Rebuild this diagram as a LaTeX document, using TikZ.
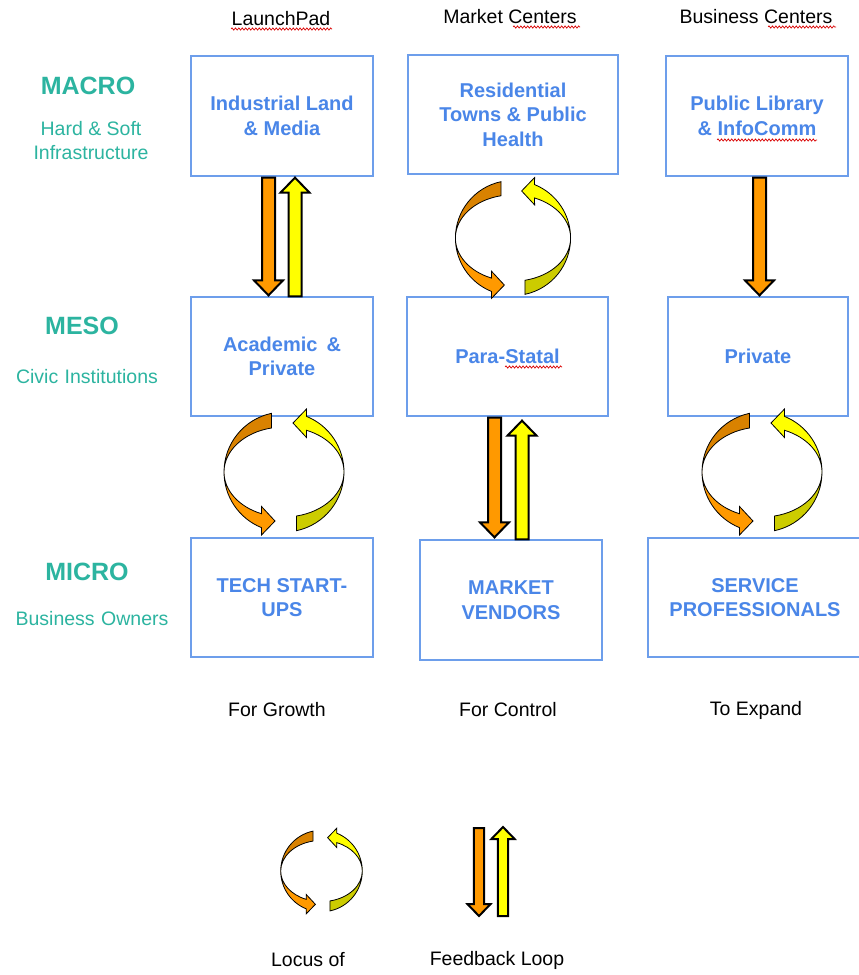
\documentclass[tikz,border=0pt]{standalone}
\usepackage{fontspec}
\setmainfont{Liberation Sans}
\usetikzlibrary{calc,decorations.pathmorphing}

\definecolor{boxline}{HTML}{6D9EEB}
\definecolor{boxtext}{HTML}{4A86E8}
\definecolor{levelteal}{HTML}{2CB4A0}
\definecolor{orangedark}{HTML}{D98200}
\definecolor{orangelight}{HTML}{FF9900}
\definecolor{yellowlight}{HTML}{FFFF00}
\definecolor{yellowdark}{HTML}{CCCC00}

\newcommand\boxfont{\fontsize{20}{24.5}\selectfont\bfseries}
\newcommand\plainfont{\fontsize{19.5}{24}\selectfont}
\newcommand\levelfont{\fontsize{25}{30}\selectfont\bfseries}

% straight block arrow pointing down: #1 scale, #2 fill, #3 tail, #4 tip
\newcommand\fatdown[4][1]{%
  \filldraw[fatarrow, fill=#2]
    ($(#3)+(-6.5*#1,0)$) -- ($(#4)+(-6.5*#1,-15*#1)$) -- ($(#4)+(-14.5*#1,-15*#1)$)
    -- (#4) -- ($(#4)+(14.5*#1,-15*#1)$) -- ($(#4)+(6.5*#1,-15*#1)$)
    -- ($(#3)+(6.5*#1,0)$) -- cycle;}
% straight block arrow pointing up: #1 scale, #2 fill, #3 tip, #4 tail
\newcommand\fatup[4][1]{%
  \filldraw[fatarrow, fill=#2]
    ($(#4)+(-6.5*#1,0)$) -- ($(#3)+(-6.5*#1,15*#1)$) -- ($(#3)+(-14.5*#1,15*#1)$)
    -- (#3) -- ($(#3)+(14.5*#1,15*#1)$) -- ($(#3)+(6.5*#1,15*#1)$)
    -- ($(#4)+(6.5*#1,0)$) -- cycle;}

% one curved half-arrow of a circulating pair (#1 = orange or yellow)
\newcommand\halfloop[1]{%
  \filldraw[loopline, fill=#1dark]
    (258:60) arc[start angle=258, end angle=180, radius=60]
    arc[start angle=180, end angle=258, x radius=60, y radius=45] -- cycle;
  \filldraw[loopline, fill=#1light]
    (180:60) arc[start angle=180, end angle=112, radius=60]
    -- (-22.5,63) -- (-9,49) -- (-22.5,34.5) -- (112:60 and 45)
    arc[start angle=112, end angle=180, x radius=60, y radius=45] -- cycle;}

\tikzset{
  box/.style={draw=boxline, line width=1.3pt, align=center, text=boxtext,
    font=\boxfont, inner sep=0pt},
  level/.style={text=levelteal, font=\levelfont, inner sep=0pt},
  levelsub/.style={text=levelteal, font=\plainfont, align=center, inner sep=0pt},
  plain/.style={text=black, font=\plainfont, inner sep=0pt},
  fatarrow/.style={draw=black, line width=2pt, line join=miter},
  loopline/.style={draw=black, line width=0.8pt},
  squiggle/.style={draw=red!85!black, line width=0.7pt,
    decorate, decoration={snake, amplitude=1.1pt, segment length=3.4pt}},
  loopcycle/.pic={
    \halfloop{orange}
    \begin{scope}[rotate=180]
      \halfloop{yellow}
    \end{scope}
  }
}

\begin{document}
\begin{tikzpicture}[x=1pt, y=-1pt]
\useasboundingbox (0,0) rectangle (859,975);
\fill[white] (0,0) rectangle (859,975);

% column headings
\node[plain] (hA) at (281,19) {LaunchPad};
\node[plain] (hB) at (510,17) {Market Centers};
\node[plain] (hC) at (756,17) {Business Centers};

% level labels
\node[level] (lmacro) at (88,86) {MACRO};
\node[levelsub] (smacro) at (91,141) {Hard \& Soft\\Infrastructure};
\node[level] (lmeso) at (82,326) {MESO};
\node[levelsub] (smeso) at (87,377) {Civic\hspace{1pt} Institutions};
\node[level] (lmicro) at (87,572) {MICRO};
\node[levelsub] (smicro) at (92,619) {Business\hspace{1pt} Owners};

% boxes
\node[box, minimum width=182, minimum height=120] (a1) at (282,116) {Industrial Land\\\& Media};
\node[box, minimum width=210, minimum height=119] (b1) at (513,114.5) {Residential\\Towns \& Public\\Health};
\node[box, minimum width=182, minimum height=120] (c1) at (757,116) {Public Library\\\& InfoComm};

\node[box, minimum width=182, minimum height=119] (a2) at (282,356.5) {Academic\hspace{9pt}\&\\Private};
\node[box, minimum width=201, minimum height=119] (b2) at (507.5,356.5) {Para-Statal};
\node[box, minimum width=180, minimum height=119] (c2) at (758,356.5) {Private};

\node[box, minimum width=182, minimum height=119] (a3) at (282,597.5) {TECH START-\\UPS};
\node[box, minimum width=182, minimum height=120] (b3) at (511,600) {MARKET\\VENDORS};
\node[box, minimum width=214, minimum height=119] (c3) at (755,597.5) {SERVICE\\PROFESSIONALS};

% column footers
\node[plain] (fA) at (277,710) {For Growth};
\node[plain] (fB) at (508,710) {For Control};
\node[plain] (fC) at (756,710) {To Expand};

% spell-check underlines
\draw[squiggle] (231,29) -- (332,29);
\draw[squiggle] (513,27) -- (580,27);
\draw[squiggle] (768,27) -- (836,27);
\draw[squiggle] (717,140) -- (817,140);
\draw[squiggle] (505,367) -- (562,367);

% feedback loops between levels
\path (a1.south) ++(-13.5,1) coordinate (ad1) (ad1 |- a2.north) ++(0,-1) coordinate (ad2);
\path (a1.south) ++(13,1) coordinate (au1) (au1 |- a2.north) coordinate (au2);
\fatdown{orangelight}{ad1}{ad2}
\fatup{yellowlight}{au1}{au2}

\path (c1.south) ++(2.5,1) coordinate (cd1) (cd1 |- c2.north) ++(0,-1) coordinate (cd2);
\fatdown{orangelight}{cd1}{cd2}

\path (b2.south) ++(-13,1) coordinate (bd1) (bd1 |- b3.north) ++(0,-2) coordinate (bd2);
\path (b2.south) ++(14.5,4) coordinate (bu1) (bu1 |- b3.north) coordinate (bu2);
\fatdown{orangelight}{bd1}{bd2}
\fatup{yellowlight}{bu1}{bu2}

% circulating loci between levels
\pic[scale=0.96] at (513,238) {loopcycle};
\pic at (284,472) {loopcycle};
\pic at (762,472) {loopcycle};

% key
\pic[scale=0.68] at (321.5,871) {loopcycle};
\coordinate (kd1) at (479,828);
\coordinate (kd2) at (479,916);
\coordinate (ku1) at (503,827);
\coordinate (ku2) at (503,916);
\fatdown[0.8]{orangelight}{kd1}{kd2}
\fatup[0.8]{yellowlight}{ku1}{ku2}
\node[plain] (kA) at (308,960) {Locus of};
\node[plain] (kB) at (497,960) {Feedback Loop};
\end{tikzpicture}
\end{document}
